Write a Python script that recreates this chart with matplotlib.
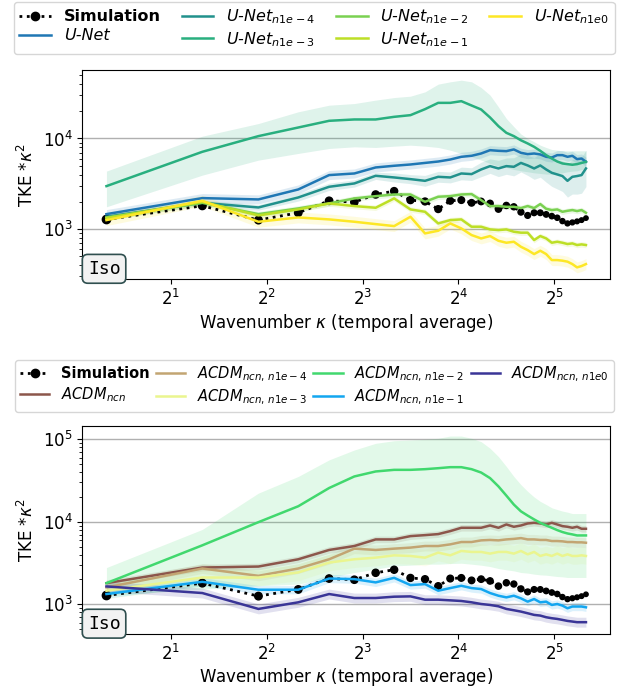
import numpy as np
import matplotlib.pyplot as plt

# wavenumbers (n * 2pi/5, n = 1..32)
kappa = [1.257, 2.513, 3.770, 5.027, 6.283, 7.540, 8.796, 10.053, 11.310, 12.566,
         13.823, 15.080, 16.336, 17.593, 18.850, 20.106, 21.363, 22.619, 23.876, 25.133,
         26.389, 27.646, 28.903, 30.159, 31.416, 32.673, 33.929, 35.186, 36.442, 37.699,
         38.956, 40.212]

sim = [1279, 1807, 1257, 1514, 2053, 1986, 2410, 2625, 2089, 2018, 1662, 2053, 2089, 1950, 2018, 1920,
       1662, 1824, 1762, 1540, 1415, 1514, 1514, 1452, 1390, 1334, 1225, 1155, 1184, 1216, 1256, 1322]

# --- U-Net runs ---
unet = [1463, 2198, 2125, 2738, 3945, 4110, 4790, 5000, 5165, 5375, 5570, 5860, 6280, 6440, 6830, 7430,
        7310, 7250, 7570, 6950, 6720, 6830, 6670, 6280, 6170, 6550, 6550, 6280, 6440, 5920, 6010, 5530]
unet_n1e4 = [1368, 1950, 1733, 2234, 2930, 3190, 3875, 3715, 3560, 3410, 3775, 3715, 4110, 4045, 4550, 4955,
             4670, 4955, 4870, 5375, 5040, 4670, 5040, 4550, 4180, 4010, 3850, 3410, 3775, 3850, 3945, 4670]
unet_n1e3 = [2980, 7130, 10620, 13220, 15670, 16220, 16220, 17340, 18090, 21070, 24730, 24730, 25820, 23120,
             20900, 17060, 13680, 11550, 10620, 9550, 8810, 8090, 7310, 6550, 6010, 5570, 5300, 5210, 5130,
             5210, 5375, 5530]
unet_n1e2 = [1344, 1950, 1463, 1690, 1920, 2180, 2310, 2410, 2410, 2002, 2275, 2310, 2410, 2434, 2089, 1795,
             1795, 1762, 1762, 1706, 1795, 1706, 1889, 1676, 1622, 1648, 1553, 1592, 1622, 1581, 1622, 1514]
unet_n1e1 = [1322, 2000, 1415, 1648, 1920, 1795, 1720, 2180, 1648, 1553, 1155, 1257, 1279, 1062, 1062, 992,
             975, 992, 935, 913, 913, 757, 838, 789, 707, 725, 707, 684, 695, 667, 678, 667]
unet_n1e0 = [1257, 2053, 1205, 1344, 1279, 1205, 1135, 1079, 1368, 896, 959, 1155, 1017, 859, 789, 838,
             743, 707, 725, 638, 586, 530, 577, 530, 455, 455, 448, 437, 411, 378, 391, 411]

unet_n1e3_lo = [1763, 3940, 5770, 6840, 7760, 8090, 7960, 8230, 8440, 8230, 7960, 7430, 6840, 6280, 5770, 5300,
                4955, 4790, 4550, 4400, 4290, 4180, 4110, 4045, 4045, 4110, 4180, 4290, 4360, 4400, 4550, 4670]
unet_n1e3_hi = [4365, 10600, 14620, 19700, 23300, 24300, 26500, 28300, 29300, 32700, 39800, 42200, 44000,
                42200, 36500, 30100, 22300, 16600, 13500, 11200, 10000, 9190, 8440, 7950, 7560, 7430, 7310,
                7310, 7310, 7310, 7310, 7310]
# half width of the n1e-4 band, in decades
unet_n1e4_spread = [0.03, 0.03, 0.03, 0.04, 0.04, 0.04, 0.04, 0.05, 0.05, 0.06, 0.06, 0.06, 0.07, 0.07, 0.08,
                    0.08, 0.09, 0.09, 0.10, 0.10, 0.11, 0.12, 0.13, 0.14, 0.15, 0.16, 0.17, 0.18, 0.19, 0.20,
                    0.20, 0.20]

# --- ACDM runs ---
acdm = [1807, 2793, 2870, 3515, 4560, 5090, 6120, 6120, 6710, 6900, 7100, 7720, 8470, 8470, 8470, 9030,
        8470, 9290, 8710, 9030, 9550, 9730, 9550, 9290, 9730, 9290, 8870, 8710, 8470, 8710, 8240, 8240]
acdm_n1e4 = [1603, 2717, 2215, 2717, 3515, 4730, 4560, 4730, 4870, 5090, 5090, 5330, 5690, 5690, 5960, 6030,
             5960, 6120, 6210, 6350, 6120, 6120, 6030, 6030, 5850, 5850, 5800, 5690, 5690, 5640, 5640, 5580]
acdm_n1e3 = [1462, 2113, 2113, 2434, 3206, 3515, 3680, 3925, 3855, 3680, 4236, 3925, 4436, 4315, 4315, 4120,
             4315, 4315, 4120, 4436, 4036, 4315, 3855, 4036, 3855, 4120, 3855, 4036, 3855, 3855, 3925, 3855]
acdm_n1e2 = [1807, 5190, 9910, 15450, 25700, 35500, 40800, 42700, 42700, 43500, 44700, 46000, 46000, 43500,
             39600, 33900, 26900, 20800, 16200, 13400, 11900, 10700, 9720, 9040, 8470, 7940, 7520, 7230, 7040,
             6840, 6840, 6840]
acdm_n1e1 = [1332, 1875, 1502, 1502, 2054, 2020, 1843, 2094, 1711, 1758, 1462, 1573, 1678, 1573, 1531, 1370,
             1271, 1214, 1271, 1181, 1077, 1159, 1057, 1077, 982, 1009, 964, 895, 940, 940, 940, 920]
acdm_n1e0 = [1648, 1370, 879, 1057, 1332, 1192, 1192, 1237, 1248, 1138, 1138, 1117, 1097, 1057, 1009, 982,
             946, 879, 847, 816, 779, 744, 730, 697, 678, 665, 647, 629, 618, 607, 607, 607]

acdm_n1e2_lo = [1271, 1530, 1678, 1758, 2115, 2430, 2670, 2925, 2980, 3065, 3065, 3120, 3150, 3065, 2980, 2870,
                2715, 2620, 2545, 2430, 2390, 2320, 2275, 2255, 2213, 2173, 2153, 2115, 2115, 2115, 2115, 2115]
acdm_n1e2_hi = [2790, 8090, 22300, 35500, 56400, 74300, 89500, 96300, 98100, 100000, 103000, 109700, 109700,
                103000, 93800, 78000, 61800, 46900, 35500, 28200, 23400, 20000, 17700, 16200, 14800, 14100,
                13500, 13100, 12600, 12600, 12600, 12600]

k = np.array(kappa)


def simulation(ax):
    # dotted reference curve, markers shrink towards high wavenumbers
    ax.plot(k, sim, 'k:', lw=2, marker='o', ms=6, markevery=[0], label='Simulation')
    ax.scatter(k[1:], sim[1:], s=np.linspace(30, 10, len(k) - 1), color='k', zorder=2)


def curve(ax, y, label, color, lo=None, hi=None, w=0.04):
    y = np.array(y, dtype=float)
    if lo is None:
        w = np.array(w)
        lo, hi = y / 10**w, y * 10**w
    ax.fill_between(k, lo, hi, color=color, alpha=0.15, lw=0)
    ax.plot(k, y, color=color, lw=1.8, label=label, zorder=3)


def setup(ax, ylim, legsize, legbox):
    ax.set_xscale('log', base=2)
    ax.set_yscale('log')
    ax.set_ylim(ylim)
    ax.grid(axis='y', which='major', color='#b0b0b0', lw=1)
    ax.set_axisbelow(True)
    ax.set_xlabel(r'Wavenumber $\kappa$ (temporal average)', fontsize=12, labelpad=2)
    ax.set_ylabel(r'TKE $*\kappa^2$', fontsize=12)
    ax.tick_params(labelsize=12)
    ax.text(0.01, 0.025, 'Iso', transform=ax.transAxes, family='monospace', fontsize=13, zorder=5,
            bbox=dict(boxstyle='round,pad=0.3', fc='#f2f2f2', ec='#2f4f4f', lw=1.2))
    leg = ax.legend(ncol=4, loc='lower left', bbox_to_anchor=legbox, mode='expand',
                    fontsize=legsize, labelspacing=0.25, borderpad=0.35,
                    handletextpad=0.8, borderaxespad=0)
    for t in leg.get_texts():
        if t.get_text() == 'Simulation':
            t.set_fontweight('bold')
        else:
            t.set_fontstyle('italic')


fig = plt.figure(figsize=(6.22, 6.89), dpi=100)
ax1 = fig.add_axes([0.1326, 0.595, 0.848, 0.303])
ax2 = fig.add_axes([0.1326, 0.080, 0.848, 0.302])

# top panel: U-Net
simulation(ax1)
curve(ax1, unet, 'U-Net', '#1f77b4', w=0.05)
curve(ax1, unet_n1e4, r'U-Net$_{n1e-4}$', '#21918c', w=unet_n1e4_spread)
curve(ax1, unet_n1e3, r'U-Net$_{n1e-3}$', '#29af7f', lo=unet_n1e3_lo, hi=unet_n1e3_hi)
curve(ax1, unet_n1e2, r'U-Net$_{n1e-2}$', '#7ad151', w=0.03)
curve(ax1, unet_n1e1, r'U-Net$_{n1e-1}$', '#bddf26', w=0.03)
curve(ax1, unet_n1e0, r'U-Net$_{n1e0}$', '#fde725', w=0.06)
setup(ax1, (281, 56600), 11.5, (-0.13, 1.077, 1.139, 0.25))

# bottom panel: ACDM
simulation(ax2)
curve(ax2, acdm, r'ACDM$_{ncn}$', '#8c564b', w=0.04)
curve(ax2, acdm_n1e4, r'ACDM$_{ncn,\,n1e-4}$', '#c2a572', w=0.06)
curve(ax2, acdm_n1e3, r'ACDM$_{ncn,\,n1e-3}$', '#eaf58f', w=0.1)
curve(ax2, acdm_n1e2, r'ACDM$_{ncn,\,n1e-2}$', '#41d86e', lo=acdm_n1e2_lo, hi=acdm_n1e2_hi)
curve(ax2, acdm_n1e1, r'ACDM$_{ncn,\,n1e-1}$', '#13a6f0', w=0.05)
curve(ax2, acdm_n1e0, r'ACDM$_{ncn,\,n1e0}$', '#3a3597', w=0.06)
setup(ax2, (438, 146000), 10.5, (-0.128, 1.0655, 1.136, 0.25))

fig.savefig('out.png', dpi=100)
